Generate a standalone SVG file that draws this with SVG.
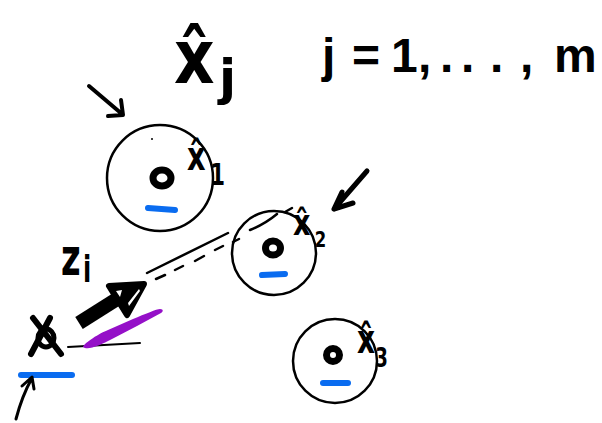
<svg xmlns="http://www.w3.org/2000/svg" width="602" height="423" viewBox="0 0 602 423">
<style>
.hw{font-family:"DejaVu Sans","Liberation Sans",sans-serif;font-weight:bold;fill:#000}
.eq{font-family:"Liberation Sans","DejaVu Sans",sans-serif;font-weight:bold;fill:#000}
.ring{fill:none;stroke:#000;stroke-width:2.5}
.pt{fill:none;stroke:#000;stroke-width:7}
.blue{fill:none;stroke:#0a6cf0;stroke-width:6;stroke-linecap:round}
.ink{fill:none;stroke:#000;stroke-linecap:round;stroke-linejoin:round}
</style>
<rect width="602" height="423" fill="#fff"/>

<g id="title">
<text class="hw" transform="translate(174,83) scale(0.85,1)" font-size="74">x̂</text>
<text class="hw" x="219" y="95" font-size="50">j</text>
<text class="eq" y="72" font-size="48" x="322 352 391 418 440 461 490 520 554">j=1,...,m</text>
</g>

<g id="node-x1">
<circle class="ring" cx="160" cy="178" r="53"/>
<ellipse class="pt" cx="162" cy="178" rx="9" ry="8"/>
<line class="blue" x1="148" y1="208" x2="175" y2="210" stroke-width="5"/>
<circle cx="152" cy="139" r="1" fill="#000"/>
<text class="hw" transform="translate(187,170) scale(0.72,1)" font-size="40">x̂<tspan x="32" y="15" font-size="30">1</tspan></text>
</g>

<g id="node-x2">
<circle class="ring" cx="274" cy="253" r="42"/>
<ellipse class="pt" cx="273" cy="248" rx="7.5" ry="7"/>
<line class="blue" x1="262" y1="275" x2="285" y2="274" stroke-width="5"/>
<text class="hw" transform="translate(293,235) scale(0.75,1)" font-size="36">x̂<tspan x="29" y="12" font-size="22">2</tspan></text>
</g>

<g id="node-x3">
<circle class="ring" cx="335" cy="361" r="42"/>
<ellipse class="pt" cx="333" cy="355" rx="6.5" ry="6.5"/>
<line class="blue" x1="323" y1="383" x2="348" y2="383" stroke-width="5"/>
<text class="hw" transform="translate(357,353) scale(0.7,1)" font-size="40">x̂<tspan x="26" y="14" font-size="26">3</tspan></text>
</g>

<g id="node-xi">
<path class="ink" stroke-width="6" d="M50,318 L31,354 M33,318 L61,354"/>
<ellipse class="ink" stroke-width="5" cx="46" cy="338" rx="8" ry="9"/>
<line class="blue" x1="21" y1="375" x2="72" y2="375"/>
<text class="hw" transform="translate(61,275) scale(0.65,1)" font-size="52">z<tspan x="34" y="7" font-size="37">i</tspan></text>
</g>

<g id="connectors">
<path class="ink" stroke-width="4" d="M89,86 L122,114 M121,100 L123,115 L108,116"/>
<path class="ink" stroke-width="5" d="M367,171 L334,209 M342,192 L334,209 L353,203"/>
<path class="ink" stroke-width="3" d="M16,419 Q22,396 32,378 M22,386 L32,377 L34,389"/>
<path class="ink" stroke-width="2.5" d="M147,273 L228,233 M250,230 Q265,224 277,214 M285,212 L292,208"/>
<path class="ink" stroke-width="2.5" d="M156,279 L165,275 M175,270 L183,266 M195,261 L204,256 M215,250 L223,246 M233,242 L239,239"/>
<line class="ink" stroke-width="2" x1="68" y1="347" x2="140" y2="343"/>
<path fill="#9510c8" d="M83,347 C84,343 100,333 108,330 L133,319 C145,314 157,309 160,309 C164,309 163,312 161,313 L137,326 L112,339 C100,345 88,351 83,347 Z"/>
<line x1="79" y1="323" x2="117" y2="299" stroke="#000" stroke-width="14"/>
<path d="M109,286 L144,284 L127,315 Z" fill="#000" stroke="#000" stroke-width="6" stroke-linejoin="round"/>
<path d="M116,291 L122,290 L120,297 Z M139,289 L140,291 L129,306 L128,303 Z" fill="#fff"/>
</g>
</svg>
